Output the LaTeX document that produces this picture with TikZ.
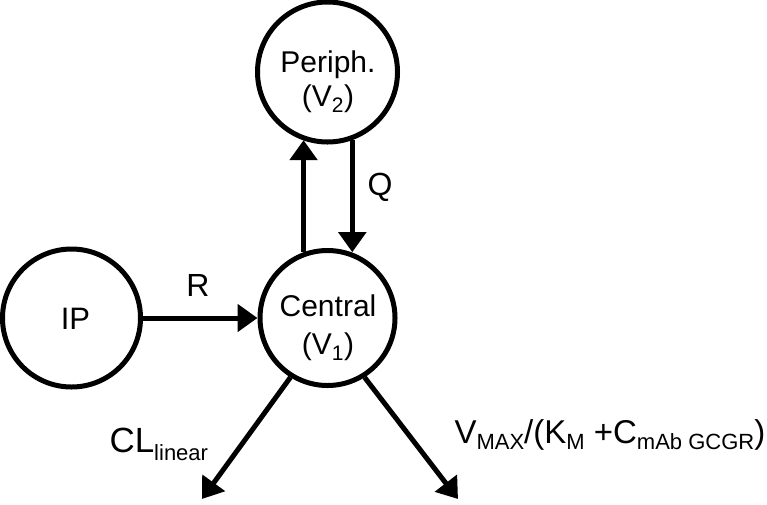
\documentclass[tikz,border=0pt]{standalone}
\usepackage{fontspec}
\setmainfont{Liberation Sans}
\usetikzlibrary{arrows.meta}

\newcommand\ratesub[2][6pt]{\raisebox{-#1}{\fontsize{22}{22}\selectfont #2}}

\tikzset{every picture/.style={line width=5pt}}
\tikzset{
  comp/.style={circle, draw, line width=5pt, inner sep=0pt},
  flow/.style={line width=5pt, -{Triangle[width=27pt,length=20pt]}},
  lbl/.style={inner sep=0pt, align=center, font=\fontsize{30}{38}\selectfont},
  ratelbl/.style={inner sep=0pt, font=\fontsize{33}{36}\selectfont}
}

\begin{document}
\begin{tikzpicture}[x=1pt,y=1pt,yscale=-1,xscale=1]
\useasboundingbox (0,0) rectangle (767,504);

%Shape: Circle [periph]
\node[comp, minimum size=140pt] (periph) at (327.5,72) {};
%Shape: Circle [central]
\node[comp, minimum size=135pt] (central) at (327.5,318) {};
%Shape: Circle [ip]
\node[comp, minimum size=138pt] (ip) at (71.5,318) {};

%Straight Lines [ip -> central]
\draw[flow] (ip) -- (central);
%Straight Lines [central -> periph]
\draw[flow] (central.110) -- (central.110 |- periph.250);
%Straight Lines [periph -> central]
\draw[flow] (periph.290) -- (periph.290 |- central.70);
%Straight Lines [elimination]
\coordinate (clend) at (202,499);
\coordinate (vmend) at (458,499);
\draw[flow] (central.238) -- (clend);
\draw[flow] (central.302) -- (vmend);

% Text Node
\node[lbl, font=\fontsize{30}{34}\selectfont] (periphtxt) at (328,82) {Periph.\\(V\textsubscript{2})};
% Text Node
\node[lbl] (centraltxt) at (328,328) {Central\\(V\textsubscript{1})};
% Text Node
\node[lbl, font=\fontsize{31}{36}\selectfont] (iptxt) at (75.5,319) {IP};
% Text Node
\node[lbl, font=\fontsize{32}{36}\selectfont] (rtxt) at (198,285.5) {R};
% Text Node
\node[lbl, font=\fontsize{32}{36}\selectfont] (qtxt) at (380,187) {Q};
% Text Node
\node[ratelbl, font=\fontsize{35}{36}\selectfont, anchor=base west] (cltxt) at (107,452) {CL\ratesub[8pt]{linear}};
% Text Node
\node[ratelbl, anchor=base west] (vmtxt) at (452,443) {V\ratesub{MAX}/(K\ratesub{M} +C\ratesub{mAb GCGR})};

\end{tikzpicture}
\end{document}
